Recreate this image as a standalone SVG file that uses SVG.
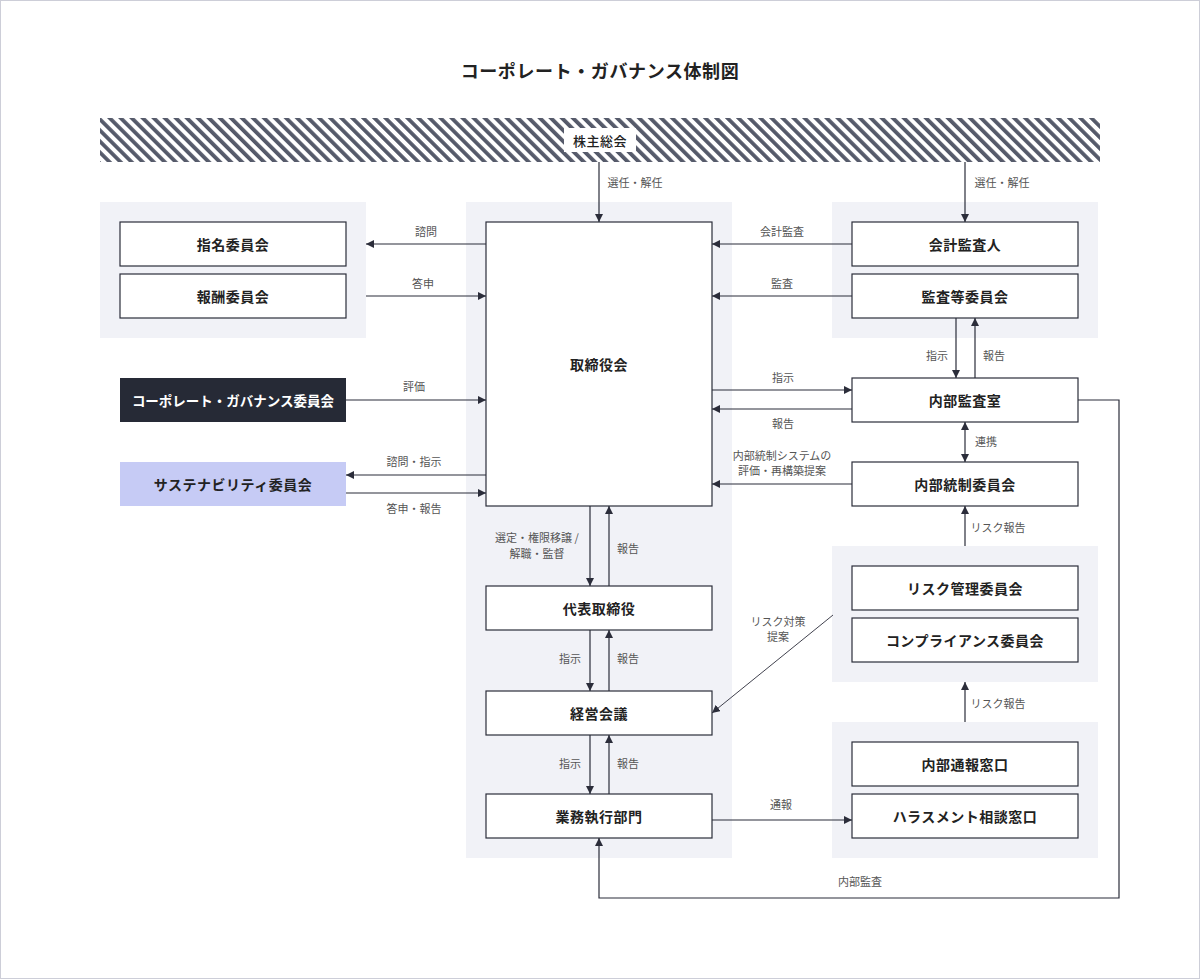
<svg xmlns="http://www.w3.org/2000/svg" width="1200" height="979" viewBox="0 0 1200 979">
<style>
.panel{fill:#f1f2f7}
.node{fill:#fff;stroke:#2b2d3a;stroke-width:1.2}
.nt{font-family:"Noto Sans CJK JP","Noto Sans",sans-serif;font-size:14px;font-weight:700;fill:#222;text-anchor:middle;dominant-baseline:central;letter-spacing:0.5px}
.lb{font-family:"Noto Sans CJK JP","Noto Sans",sans-serif;font-size:11px;fill:#555;text-anchor:middle;dominant-baseline:central}
.ln{fill:none;stroke:#2b2d3a;stroke-width:1.2}
.thin{fill:none;stroke:#2b2d3a;stroke-width:0.9}
</style>
<defs>
<pattern id="stripes" width="7.8" height="7.8" patternUnits="userSpaceOnUse" patternTransform="rotate(-45)">
<rect width="7.8" height="7.8" fill="#fff"/>
<rect width="3.8" height="7.8" fill="#555a6a"/>
</pattern>
<marker id="ah" viewBox="0 0 10 10" refX="10" refY="5" markerWidth="8" markerHeight="8" markerUnits="userSpaceOnUse" orient="auto">
<path d="M0,0 L10,5 L0,10 z" fill="#2b2d3a"/>
</marker>
<marker id="as" viewBox="0 0 10 10" refX="0" refY="5" markerWidth="8" markerHeight="8" markerUnits="userSpaceOnUse" orient="auto">
<path d="M10,0 L0,5 L10,10 z" fill="#2b2d3a"/>
</marker>
</defs>
<rect x="0" y="0" width="1200" height="979" fill="#fff"/>
<rect x="0.5" y="0.5" width="1199" height="978" fill="none" stroke="#cdced8"/>
<text x="600" y="70" font-family="'Noto Sans CJK JP','Noto Sans',sans-serif" font-size="18" font-weight="700" fill="#222" text-anchor="middle" dominant-baseline="central" letter-spacing="0.6">コーポレート・ガバナンス体制図</text>

<g id="panels">
<rect class="panel" x="100" y="202" width="266" height="136"/>
<rect class="panel" x="466" y="202" width="266" height="656"/>
<rect class="panel" x="832" y="202" width="266" height="136"/>
<rect class="panel" x="832" y="546" width="266" height="136"/>
<rect class="panel" x="832" y="722" width="266" height="136"/>
</g>

<g id="shareholders">
<rect x="100" y="118" width="1000" height="44" fill="url(#stripes)"/>
<rect x="564" y="128" width="72" height="24" fill="#fff"/>
<text class="nt" x="600" y="140" style="font-weight:500;font-size:13px">株主総会</text>
</g>

<g id="connectors">
<line class="ln" x1="599" y1="162" x2="599" y2="222" marker-end="url(#ah)"/>
<line class="ln" x1="965" y1="162" x2="965" y2="222" marker-end="url(#ah)"/>
<line class="ln" x1="486" y1="244" x2="366" y2="244" marker-end="url(#ah)"/>
<line class="ln" x1="366" y1="296" x2="486" y2="296" marker-end="url(#ah)"/>
<line class="ln" x1="852" y1="244" x2="712" y2="244" marker-end="url(#ah)"/>
<line class="ln" x1="852" y1="296" x2="712" y2="296" marker-end="url(#ah)"/>
<line class="ln" x1="956" y1="318" x2="956" y2="378" marker-end="url(#ah)"/>
<line class="ln" x1="975" y1="378" x2="975" y2="318" marker-end="url(#ah)"/>
<line class="ln" x1="712" y1="390" x2="852" y2="390" marker-end="url(#ah)"/>
<line class="ln" x1="852" y1="409" x2="712" y2="409" marker-end="url(#ah)"/>
<line class="ln" x1="965" y1="422" x2="965" y2="462" marker-start="url(#as)" marker-end="url(#ah)"/>
<line class="ln" x1="852" y1="484" x2="712" y2="484" marker-end="url(#ah)"/>
<line class="ln" x1="346" y1="400" x2="486" y2="400" marker-end="url(#ah)"/>
<line class="ln" x1="486" y1="475" x2="346" y2="475" marker-end="url(#ah)"/>
<line class="ln" x1="346" y1="493" x2="486" y2="493" marker-end="url(#ah)"/>
<line class="ln" x1="590" y1="506" x2="590" y2="586" marker-end="url(#ah)"/>
<line class="ln" x1="609" y1="586" x2="609" y2="506" marker-end="url(#ah)"/>
<line class="ln" x1="590" y1="630" x2="590" y2="691" marker-end="url(#ah)"/>
<line class="ln" x1="609" y1="691" x2="609" y2="630" marker-end="url(#ah)"/>
<line class="ln" x1="590" y1="735" x2="590" y2="794" marker-end="url(#ah)"/>
<line class="ln" x1="609" y1="794" x2="609" y2="735" marker-end="url(#ah)"/>
<line class="ln" x1="965" y1="546" x2="965" y2="506" marker-end="url(#ah)"/>
<line class="ln" x1="965" y1="722" x2="965" y2="682" marker-end="url(#ah)"/>
<line class="thin" x1="833" y1="615" x2="712" y2="713" marker-end="url(#ah)"/>
<line class="ln" x1="712" y1="820" x2="852" y2="820" marker-end="url(#ah)"/>
<polyline class="ln" points="1078,400 1119,400 1119,898 599,898 599,838" marker-end="url(#ah)"/>
</g>

<g id="labels">
<text class="lb" x="635" y="182">選任・解任</text>
<text class="lb" x="1002" y="182">選任・解任</text>
<text class="lb" x="426" y="231">諮問</text>
<text class="lb" x="423" y="283">答申</text>
<text class="lb" x="782" y="231">会計監査</text>
<text class="lb" x="782" y="283">監査</text>
<text class="lb" x="937" y="355">指示</text>
<text class="lb" x="994" y="355">報告</text>
<text class="lb" x="783" y="377">指示</text>
<text class="lb" x="783" y="423">報告</text>
<text class="lb" x="986" y="441">連携</text>
<text class="lb" x="782" y="455">内部統制システムの</text>
<text class="lb" x="782" y="470">評価・再構築提案</text>
<text class="lb" x="414" y="386">評価</text>
<text class="lb" x="414" y="461">諮問・指示</text>
<text class="lb" x="414" y="508">答申・報告</text>
<text class="lb" x="537" y="537">選定・権限移譲 /</text>
<text class="lb" x="537" y="553">解職・監督</text>
<text class="lb" x="628" y="548">報告</text>
<text class="lb" x="570" y="658">指示</text>
<text class="lb" x="628" y="658">報告</text>
<text class="lb" x="570" y="763">指示</text>
<text class="lb" x="628" y="763">報告</text>
<text class="lb" x="998" y="527">リスク報告</text>
<text class="lb" x="998" y="703">リスク報告</text>
<text class="lb" x="778" y="621">リスク対策</text>
<text class="lb" x="778" y="636">提案</text>
<text class="lb" x="781" y="804">通報</text>
<text class="lb" x="860" y="881">内部監査</text>
</g>

<g id="n-shimei"><rect class="node" x="120" y="222" width="226" height="44"/><text class="nt" x="233" y="244">指名委員会</text></g>
<g id="n-hoshu"><rect class="node" x="120" y="274" width="226" height="44"/><text class="nt" x="233" y="296">報酬委員会</text></g>
<g id="n-torishimariyakukai"><rect class="node" x="486" y="222" width="226" height="284"/><text class="nt" x="599" y="364">取締役会</text></g>
<g id="n-kaikei"><rect class="node" x="852" y="222" width="226" height="44"/><text class="nt" x="965" y="244">会計監査人</text></g>
<g id="n-kansa"><rect class="node" x="852" y="274" width="226" height="44"/><text class="nt" x="965" y="296">監査等委員会</text></g>
<g id="n-cg"><rect x="120" y="378" width="226" height="44" fill="#262a36"/><text class="nt" x="233" y="400" style="fill:#fff;letter-spacing:0;font-size:13.5px">コーポレート・ガバナンス委員会</text></g>
<g id="n-sustain"><rect x="120" y="462" width="226" height="44" fill="#c6cbf5"/><text class="nt" x="233" y="484">サステナビリティ委員会</text></g>
<g id="n-naibukansa"><rect class="node" x="852" y="378" width="226" height="44"/><text class="nt" x="965" y="400">内部監査室</text></g>
<g id="n-naibutosei"><rect class="node" x="852" y="462" width="226" height="44"/><text class="nt" x="965" y="484">内部統制委員会</text></g>
<g id="n-daihyo"><rect class="node" x="486" y="586" width="226" height="44"/><text class="nt" x="599" y="608">代表取締役</text></g>
<g id="n-keiei"><rect class="node" x="486" y="691" width="226" height="44"/><text class="nt" x="599" y="713">経営会議</text></g>
<g id="n-gyomu"><rect class="node" x="486" y="794" width="226" height="44"/><text class="nt" x="599" y="816">業務執行部門</text></g>
<g id="n-risk"><rect class="node" x="852" y="566" width="226" height="44"/><text class="nt" x="965" y="588">リスク管理委員会</text></g>
<g id="n-compliance"><rect class="node" x="852" y="618" width="226" height="44"/><text class="nt" x="965" y="640">コンプライアンス委員会</text></g>
<g id="n-tsuho"><rect class="node" x="852" y="742" width="226" height="44"/><text class="nt" x="965" y="764">内部通報窓口</text></g>
<g id="n-harassment"><rect class="node" x="852" y="794" width="226" height="44"/><text class="nt" x="965" y="816">ハラスメント相談窓口</text></g>
</svg>
